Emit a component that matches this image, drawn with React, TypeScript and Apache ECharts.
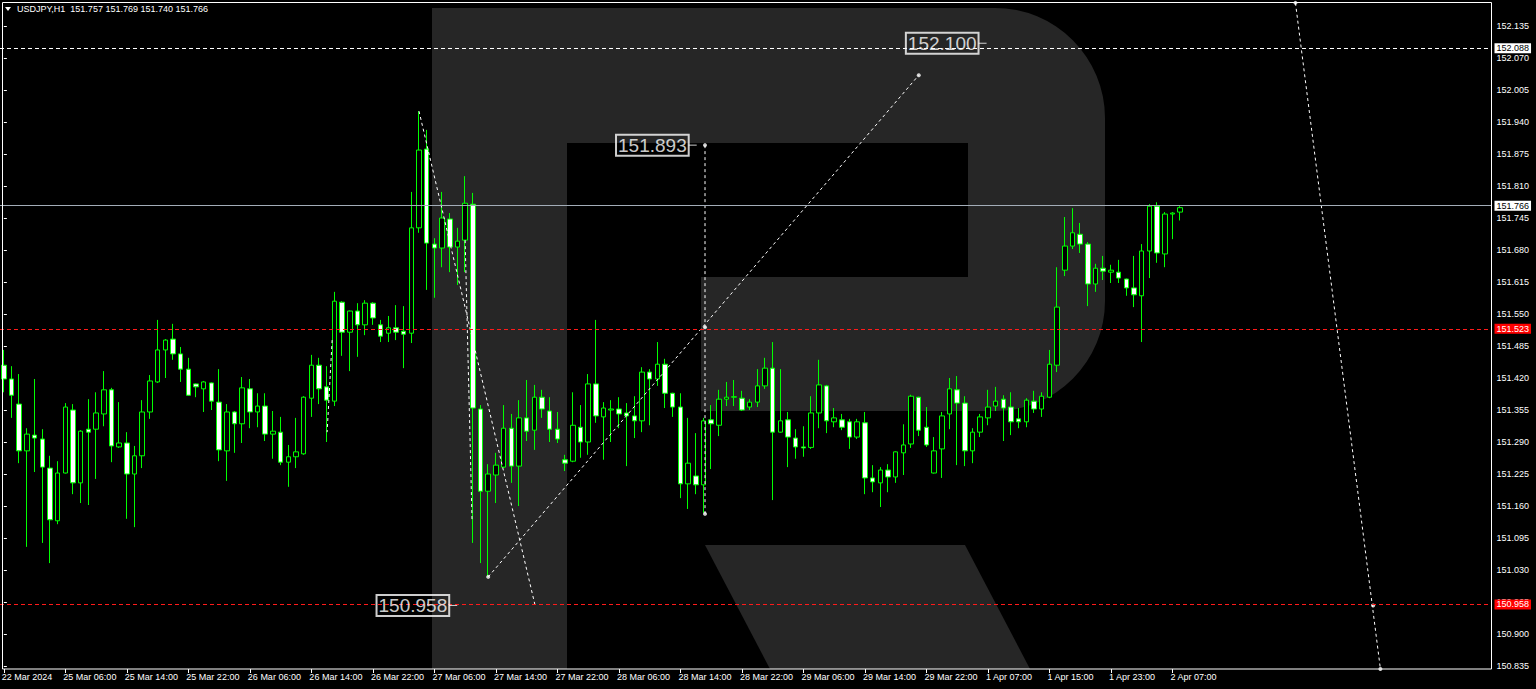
import React, { useEffect, useRef } from 'react';
import * as echarts from 'echarts';

// ---------- data ----------
const AXIS_SLOTS = 194; // bar slots across the plot (data + empty space on the right)
const TICK_STEP = 8;
const TICK_LABELS = [
  '22 Mar 2024', '25 Mar 06:00', '25 Mar 14:00', '25 Mar 22:00', '26 Mar 06:00',
  '26 Mar 14:00', '26 Mar 22:00', '27 Mar 06:00', '27 Mar 14:00', '27 Mar 22:00',
  '28 Mar 06:00', '28 Mar 14:00', '28 Mar 22:00', '29 Mar 06:00', '29 Mar 14:00',
  '29 Mar 22:00', '1 Apr 07:00', '1 Apr 15:00', '1 Apr 23:00', '2 Apr 07:00',
];

const OPEN = [
  151.446, 151.418, 151.367, 151.272, 151.304, 151.296, 151.237, 151.130, 151.227, 151.355,
  151.207, 151.316, 151.316, 151.347, 151.396, 151.280, 151.288, 151.225, 151.262, 151.351,
  151.412, 151.477, 151.499, 151.469, 151.438, 151.408, 151.398, 151.410, 151.371, 151.272,
  151.351, 151.327, 151.398, 151.351, 151.363, 151.306, 151.310, 151.249, 151.260, 151.266,
  151.379, 151.446, 151.402, 151.373, 151.574, 151.513, 151.556, 151.528, 151.572, 151.528,
  151.511, 151.522, 151.515, 151.511, 151.725, 151.885, 151.692, 151.684, 151.743, 151.686,
  151.700, 151.773, 151.357, 151.190, 151.223, 151.239, 151.318, 151.241, 151.339, 151.314,
  151.381, 151.353, 151.316, 151.254, 151.251, 151.320, 151.290, 151.408, 151.341, 151.355,
  151.357, 151.349, 151.343, 151.333, 151.432, 151.418, 151.448, 151.389, 151.361, 151.205,
  151.221, 151.203, 151.335, 151.324, 151.377, 151.381, 151.379, 151.361, 151.371, 151.404,
  151.440, 151.310, 151.335, 151.298, 151.280, 151.279, 151.349, 151.404, 151.331, 151.335,
  151.331, 151.300, 151.329, 151.217, 151.207, 151.233, 151.219, 151.268, 151.286, 151.381,
  151.320, 151.227, 151.276, 151.347, 151.396, 151.369, 151.272, 151.310, 151.339, 151.363,
  151.377, 151.361, 151.337, 151.331, 151.373, 151.357, 151.381, 151.446, 151.639, 151.688,
  151.712, 151.692, 151.611, 151.643, 151.635, 151.635, 151.621, 151.603, 151.587, 151.678,
  151.769, 151.672, 151.753, 151.757,
];
const HIGH = [
  151.477, 151.444, 151.428, 151.318, 151.418, 151.316, 151.262, 151.251, 151.369, 151.367,
  151.314, 151.377, 151.391, 151.434, 151.400, 151.371, 151.310, 151.282, 151.375, 151.426,
  151.538, 151.499, 151.530, 151.483, 151.461, 151.409, 151.414, 151.411, 151.438, 151.367,
  151.353, 151.422, 151.418, 151.389, 151.389, 151.353, 151.341, 151.284, 151.339, 151.383,
  151.467, 151.461, 151.444, 151.595, 151.576, 151.557, 151.572, 151.578, 151.574, 151.538,
  151.546, 151.568, 151.566, 151.798, 151.962, 151.924, 151.704, 151.798, 151.755, 151.725,
  151.830, 151.796, 151.365, 151.245, 151.268, 151.365, 151.347, 151.375, 151.416, 151.406,
  151.396, 151.381, 151.351, 151.264, 151.391, 151.365, 151.428, 151.538, 151.371, 151.375,
  151.381, 151.369, 151.383, 151.442, 151.438, 151.493, 151.459, 151.390, 151.389, 151.339,
  151.308, 151.339, 151.365, 151.396, 151.412, 151.416, 151.394, 151.377, 151.438, 151.461,
  151.493, 151.438, 151.351, 151.316, 151.322, 151.383, 151.457, 151.406, 151.359, 151.347,
  151.337, 151.337, 151.351, 151.243, 151.239, 151.245, 151.271, 151.326, 151.386, 151.382,
  151.361, 151.300, 151.351, 151.420, 151.424, 151.383, 151.318, 151.347, 151.396, 151.402,
  151.385, 151.391, 151.359, 151.379, 151.394, 151.391, 151.477, 151.645, 151.747, 151.765,
  151.735, 151.696, 151.652, 151.668, 151.650, 151.660, 151.622, 151.668, 151.692, 151.773,
  151.777, 151.757, 151.757, 151.769,
];
const LOW = [
  151.391, 151.339, 151.247, 151.077, 151.229, 151.085, 151.044, 151.123, 151.226, 151.184,
  151.166, 151.162, 151.215, 151.322, 151.249, 151.278, 151.134, 151.117, 151.237, 151.337,
  151.410, 151.420, 151.457, 151.412, 151.384, 151.381, 151.351, 151.355, 151.251, 151.211,
  151.268, 151.288, 151.318, 151.320, 151.292, 151.256, 151.243, 151.199, 151.237, 151.264,
  151.341, 151.367, 151.290, 151.363, 151.465, 151.434, 151.463, 151.507, 151.528, 151.493,
  151.493, 151.497, 151.440, 151.491, 151.715, 151.599, 151.583, 151.645, 151.635, 151.609,
  151.635, 151.085, 151.044, 151.016, 151.166, 151.237, 151.207, 151.160, 151.292, 151.274,
  151.339, 151.290, 151.288, 151.231, 151.249, 151.258, 151.264, 151.329, 151.254, 151.290,
  151.318, 151.241, 151.298, 151.310, 151.324, 151.404, 151.359, 151.341, 151.176, 151.154,
  151.184, 151.146, 151.235, 151.302, 151.363, 151.363, 151.353, 151.355, 151.361, 151.398,
  151.172, 151.309, 151.239, 151.256, 151.260, 151.276, 151.318, 151.308, 151.320, 151.314,
  151.276, 151.296, 151.184, 151.188, 151.158, 151.188, 151.207, 151.223, 151.278, 151.302,
  151.280, 151.226, 151.217, 151.316, 151.243, 151.241, 151.247, 151.300, 151.324, 151.353,
  151.292, 151.304, 151.318, 151.320, 151.349, 151.341, 151.379, 151.432, 151.627, 151.682,
  151.674, 151.566, 151.595, 151.619, 151.613, 151.613, 151.587, 151.564, 151.493, 151.623,
  151.654, 151.645, 151.702, 151.740,
];
const CLOSE = [
  151.418, 151.385, 151.272, 151.306, 151.298, 151.239, 151.132, 151.227, 151.361, 151.207,
  151.312, 151.310, 151.349, 151.396, 151.282, 151.288, 151.225, 151.262, 151.351, 151.414,
  151.477, 151.497, 151.469, 151.438, 151.385, 151.402, 151.412, 151.373, 151.274, 151.351,
  151.327, 151.400, 151.351, 151.363, 151.306, 151.312, 151.249, 151.260, 151.270, 151.381,
  151.446, 151.398, 151.375, 151.576, 151.513, 151.556, 151.528, 151.572, 151.542, 151.505,
  151.522, 151.513, 151.509, 151.725, 151.883, 151.694, 151.684, 151.745, 151.686, 151.698,
  151.775, 151.359, 151.190, 151.225, 151.243, 151.318, 151.241, 151.339, 151.312, 151.381,
  151.357, 151.316, 151.296, 151.247, 151.324, 151.290, 151.408, 151.343, 151.359, 151.357,
  151.347, 151.343, 151.333, 151.432, 151.418, 151.448, 151.389, 151.361, 151.205, 151.247,
  151.203, 151.333, 151.327, 151.377, 151.381, 151.382, 151.355, 151.371, 151.404, 151.440,
  151.310, 151.333, 151.300, 151.280, 151.278, 151.349, 151.406, 151.333, 151.339, 151.320,
  151.300, 151.331, 151.217, 151.209, 151.233, 151.219, 151.270, 151.284, 151.383, 151.314,
  151.284, 151.272, 151.343, 151.398, 151.369, 151.272, 151.310, 151.341, 151.361, 151.373,
  151.359, 151.331, 151.331, 151.375, 151.357, 151.383, 151.448, 151.564, 151.688, 151.715,
  151.692, 151.611, 151.643, 151.637, 151.639, 151.623, 151.603, 151.589, 151.678, 151.769,
  151.674, 151.753, 151.755, 151.766,
];

// horizontal levels
const LEVEL_WHITE = 152.088;
const LEVEL_BID = 151.766;
const LEVELS_RED = [151.523, 150.958];

// drawn analysis lines, in [bar index, price]
const TREND_LINES = [
  [[54.0, 151.962], [69.1, 150.958]],
  [[60.0, 151.700], [60.9, 151.130]],
  [[42.7, 151.497], [42.05, 151.310]],
  [[63.0, 151.016], [119.0, 152.035]],
  [[91.2, 151.893], [91.2, 151.144]],
  [[168.0, 152.182], [179.05, 150.829]],
];
const MARKERS = [
  [63.0, 151.016], [91.2, 151.523], [119.0, 152.035], [91.2, 151.893],
  [91.2, 151.144], [168.0, 152.182], [178.1, 150.958], [179.05, 150.829],
];
// boxed price tags: [bar index of tag dash, price]
const PRICE_TAGS = [
  [127.3, 152.100],
  [89.6, 151.893],
  [58.45, 150.958],
];

const HEADER = 'USDJPY,H1  151.757 151.769 151.740 151.766';

// ---------- y-axis scale ----------
const Y_STEP = 0.065;
const Y_MIN = 150.770;
const Y_MAX = 152.200;

const FONT = 'Liberation Sans, Arial, sans-serif';

// watermark logo shape
echarts.graphic.registerShape(
  'logo',
  echarts.graphic.extendPath(
    'M432 8 H995 A110 110 0 0 1 1105 118 V301 A110 110 0 0 1 995 411 H701 V277 H968 V143 H567 V669 H432 Z',
    {}
  )
);

function buildOption() {
  const categories = Array.from({ length: AXIS_SLOTS }, (_, i) => String(i));
  const candles = OPEN.map((o, i) => [o, CLOSE[i], LOW[i], HIGH[i]]);
  const isTick = (i: number) => i % TICK_STEP === 0 && i / TICK_STEP < TICK_LABELS.length;

  const boxLabel = (text: string, bg: string, fg: string) => ({
    show: true,
    position: 'end',
    distance: 3,
    formatter: text,
    backgroundColor: bg,
    color: fg,
    fontSize: 9,
    fontFamily: FONT,
    padding: [1, 2, 0, 2],
  });

  const series: any[] = [
    {
      type: 'candlestick',
      xAxisIndex: 0,
      yAxisIndex: 0,
      data: candles,
      barWidth: 5,
      z: 2,
      itemStyle: {
        color: '#000000',
        color0: '#ffffff',
        borderColor: '#00ff00',
        borderColor0: '#00ff00',
        borderWidth: 1,
      },
      markLine: {
        silent: true,
        symbol: ['none', 'none'],
        animation: false,
        data: [
          {
            yAxis: LEVEL_WHITE,
            lineStyle: { color: '#ffffff', type: [4, 3], width: 1 },
            label: boxLabel(LEVEL_WHITE.toFixed(3), '#ffffff', '#000000'),
          },
          {
            yAxis: LEVEL_BID,
            lineStyle: { color: '#a3adb8', type: 'solid', width: 1 },
            label: boxLabel(LEVEL_BID.toFixed(3), '#ffffff', '#000000'),
          },
          ...LEVELS_RED.map((v) => ({
            yAxis: v,
            lineStyle: { color: '#ff1a1a', type: [4, 3], width: 1 },
            label: boxLabel(v.toFixed(3), '#ff0000', '#ffffff'),
          })),
        ],
      },
    },
  ];

  TREND_LINES.forEach((pts) => {
    series.push({
      type: 'line',
      xAxisIndex: 1,
      yAxisIndex: 0,
      data: pts,
      symbol: 'none',
      clip: false,
      silent: true,
      z: 3,
      lineStyle: { color: '#ffffff', width: 1, type: [3, 3] },
    });
  });

  series.push({
    type: 'scatter',
    xAxisIndex: 1,
    yAxisIndex: 0,
    data: MARKERS,
    symbol: 'circle',
    symbolSize: 4,
    silent: true,
    clip: false,
    z: 4,
    itemStyle: { color: '#ffffff' },
  });

  series.push({
    type: 'scatter',
    xAxisIndex: 1,
    yAxisIndex: 0,
    data: PRICE_TAGS,
    symbol: 'rect',
    symbolSize: [8, 1],
    silent: true,
    clip: false,
    z: 5,
    itemStyle: { color: '#ffffff' },
    label: {
      show: true,
      position: 'left',
      distance: 0,
      formatter: (p: any) => Number(p.value[1]).toFixed(3),
      color: '#ffffff',
      fontSize: 19,
      fontFamily: FONT,
      lineHeight: 20,
      borderColor: '#ffffff',
      borderWidth: 1,
      padding: [1, 2, 0, 2],
      backgroundColor: 'transparent',
    },
  });

  return {
    animation: false,
    backgroundColor: '#000000',
    tooltip: { show: false },
    graphic: {
      elements: [
        { type: 'logo', x: 0, y: 0, scaleX: 1, scaleY: 1, z: -10, silent: true, style: { fill: '#262626' } },
        {
          type: 'polygon',
          z: -10,
          silent: true,
          shape: { points: [[705, 545], [965, 545], [1030, 669], [770, 669]] },
          style: { fill: '#262626' },
        },
        {
          type: 'rect',
          z: 100,
          silent: true,
          shape: { x: 2.5, y: 2.5, width: 1489, height: 666.5 },
          style: { fill: 'none', stroke: '#ffffff', lineWidth: 1 },
        },
        {
          type: 'polygon',
          z: 100,
          silent: true,
          shape: { points: [[5, 7], [11, 7], [8, 11]] },
          style: { fill: '#ffffff' },
        },
        {
          type: 'text',
          z: 100,
          silent: true,
          x: 17,
          y: 4,
          style: { text: HEADER, fill: '#ffffff', fontSize: 9, fontFamily: FONT, verticalAlign: 'top' },
        },
      ],
    },
    grid: {
      left: 0,
      top: -6,
      width: 1491.5,
      height: 704,
      containLabel: false,
      outerBoundsMode: 'none',
      show: false,
    },
    xAxis: [
      {
        type: 'category',
        data: categories,
        position: 'bottom',
        offset: -29,
        boundaryGap: true,
        axisLine: { show: false },
        splitLine: { show: false },
        axisTick: {
          show: true,
          alignWithLabel: true,
          interval: (i: number) => isTick(i),
          length: 4,
          lineStyle: { color: '#ffffff' },
        },
        axisLabel: {
          show: true,
          interval: (i: number) => isTick(i),
          formatter: (_v: string, i: number) => (isTick(i) ? TICK_LABELS[i / TICK_STEP] : ''),
          align: 'left',
          margin: 3,
          padding: [0, 0, 0, -2],
          color: '#ffffff',
          fontSize: 9,
          fontFamily: FONT,
        },
      },
      {
        type: 'value',
        min: -0.5,
        max: AXIS_SLOTS - 0.5,
        show: false,
        splitLine: { show: false },
      },
    ],
    yAxis: [
      {
        type: 'value',
        position: 'right',
        min: Y_MIN,
        max: Y_MAX,
        interval: Y_STEP,
        splitLine: { show: false },
        axisLine: { show: false },
        axisTick: { show: true, length: 3, lineStyle: { color: '#ffffff' } },
        axisLabel: {
          show: true,
          margin: 5,
          color: '#ffffff',
          fontSize: 9,
          fontFamily: FONT,
          formatter: (v: number) => (v < 150.8 || v > 152.17 ? '' : v.toFixed(3)),
        },
      },
    ],
    series,
  };
}

export default function App() {
  const ref = useRef<HTMLDivElement>(null);
  useEffect(() => {
    if (!ref.current) return;
    const chart = echarts.init(ref.current, null, { renderer: 'svg' });
    chart.setOption(buildOption() as any);
    return () => chart.dispose();
  }, []);
  return (
    <div
      ref={ref}
      style={{ position: 'absolute', left: 0, top: 0, width: 1536, height: 689, background: '#000' }}
    />
  );
}
